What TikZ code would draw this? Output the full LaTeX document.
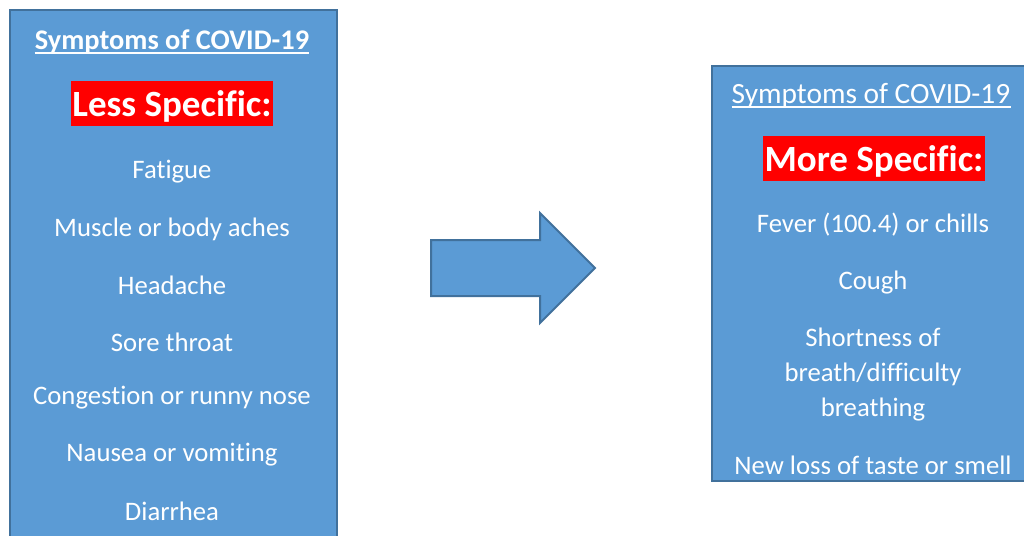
\documentclass[tikz,border=0pt]{standalone}
\usepackage{fontspec}
\setmainfont[Ligatures={NoCommon}]{Carlito}
\usetikzlibrary{shapes.arrows}
\definecolor{boxfill}{HTML}{5B9BD5}
\definecolor{boxline}{HTML}{41719C}
\definecolor{hlred}{HTML}{FF0000}
\tikzset{
  panel/.style={draw=boxline, line width=2pt, fill=boxfill, inner sep=0pt},
  title/.style={text=white, inner sep=0pt, anchor=base, font=\fontsize{29.4}{34}\selectfont},
  tag/.style={fill=hlred, text=white, inner sep=0pt, text depth=0pt, font=\bfseries\fontsize{37}{42}\selectfont},
  item/.style={text=white, inner sep=0pt, font=\fontsize{26.7}{35}\selectfont, align=center},
  uline/.style={draw=white, line width=1.4pt},
  bigarrow/.style={single arrow, draw=boxline, line width=2pt, fill=boxfill,
    inner xsep=0pt, inner ysep=27pt, single arrow head extend=27pt,
    single arrow tip angle=90, minimum height=164pt}
}
\begin{document}
\begin{tikzpicture}[x=1pt,y=-1pt]
\useasboundingbox (0,0) rectangle (1024,535);
\clip (0,0) rectangle (1024,535);
% left panel
\node[panel, minimum width=327pt, minimum height=580pt, anchor=north west] (L) at (8.5,9.5) {};
\node[title, font=\bfseries\fontsize{28.4}{34}\selectfont] (Lt) at (172,49) {Symptoms of COVID-19};
\draw[uline] ([yshift=-4pt]Lt.base west) -- ([yshift=-4pt]Lt.base east);
\node[tag, minimum width=202pt, minimum height=45pt] (Ls) at (172,103.5) {Less Specific:};
\node[item] (l1) at (172,172) {Fatigue};
\node[item] (l2) at (172,229) {Muscle or body aches};
\node[item] (l3) at (172,285) {Headache};
\node[item] (l4) at (172,342) {Sore throat};
\node[item] (l5) at (172,398) {Congestion or runny nose};
\node[item] (l6) at (172,455) {Nausea or vomiting};
\node[item] (l7) at (172,511) {Diarrhea};
% arrow
\coordinate (atail) at (430,268);
\node[bigarrow, anchor=tail] (A) at (atail) {};
% right panel
\node[panel, minimum width=360pt, minimum height=415pt, anchor=north west] (R) at (710.5,64.5) {};
\node[title] (Rt) at (871,103) {Symptoms of COVID-19};
\draw[uline] ([yshift=-4pt]Rt.base west) -- ([yshift=-4pt]Rt.base east);
\node[tag, minimum width=222pt, minimum height=45pt] (Rs) at (874,158.5) {More Specific:};
\begin{scope}
\clip (712,66) rectangle (1024,473);
\node[item] (r1) at (873,225) {Fever (100.4) or chills};
\node[item] (r2) at (873,283) {Cough};
\node[item] (r3) at (873,375) {Shortness of\\breath/difficulty\\breathing};
\node[item] (r4) at (873,465) {New loss of taste or smell};
\end{scope}
\end{tikzpicture}
\end{document}
